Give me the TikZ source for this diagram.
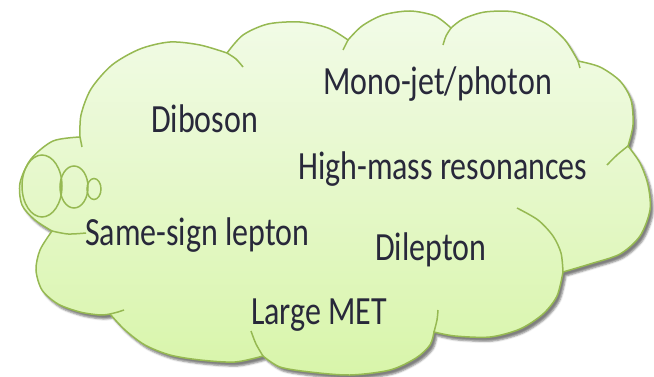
\documentclass[tikz,border=0pt]{standalone}
\usepackage{fontspec}
\setmainfont{Carlito}
\usetikzlibrary{shadows.blur}
\definecolor{cloudline}{RGB}{150,185,82}
\definecolor{cloudtop}{RGB}{242,251,232}
\definecolor{cloudbot}{RGB}{216,245,170}
\definecolor{cloudtext}{RGB}{40,40,58}

\begin{document}
\begin{tikzpicture}[x=1pt,y=-1pt,
	lobe/.style={cloudline, line width=1.5pt},
	txt/.style={anchor=base west, inner sep=0pt, xscale=0.8, text=cloudtext, font=\fontsize{40}{44}\selectfont}]
	\useasboundingbox (0,0) rectangle (654,377);
	% cloud outline, one smooth piece per puff
	\path[lobe, draw, top color=cloudtop, bottom color=cloudbot,
		blur shadow={shadow xshift=3pt, shadow yshift=-4pt, shadow opacity=50}]
		(80,137) -- plot[smooth] coordinates {(80,137) (53,141) (31,159) (20,183) (22,205) (35,220) (52,231)}
		-- plot[smooth] coordinates {(52,231) (40,250) (36,270) (42,290) (58,304) (80,312) (100,315) (110,314)}
		-- plot[smooth] coordinates {(110,314) (125,330) (145,345) (170,355) (200,360) (235,362) (263,356)}
		-- plot[smooth] coordinates {(263,356) (280,367) (310,372) (350,375) (390,370) (416,358) (430,345) (434,332)}
		-- plot[smooth] coordinates {(434,332) (455,336) (490,337) (520,329) (543,314) (557,296) (563,272)}
		-- plot[smooth] coordinates {(563,272) (590,264) (620,254) (640,236) (650,210) (648,185) (640,163) (628,146)}
		-- plot[smooth] coordinates {(628,146) (633,125) (631,100) (620,81) (600,67) (578,61)}
		-- plot[smooth] coordinates {(578,61) (565,40) (545,23) (515,12) (485,12) (463,19) (451,28)}
		-- plot[smooth] coordinates {(451,28) (435,16) (410,11) (383,15) (362,26) (348,40)}
		-- plot[smooth] coordinates {(348,40) (328,28) (300,22) (268,24) (243,35) (227,53)}
		-- plot[smooth] coordinates {(227,53) (200,45) (170,42) (140,49) (112,65) (91,89) (81,115) (80,137)}
		-- cycle;
	% inner ends of the puffs
	\draw[lobe] plot[smooth] coordinates {(80,137) (82,147)};
	\draw[lobe] plot[smooth] coordinates {(52,231) (68,234) (86,233)};
	\draw[lobe] plot[smooth] coordinates {(110,314) (118,312) (124,310)};
	\draw[lobe] plot[smooth] coordinates {(251,331) (256,344) (263,356)};
	\draw[lobe] plot[smooth] coordinates {(434,332) (437,320) (438,310)};
	\draw[lobe] plot[smooth] coordinates {(563,272) (561,253) (553,236) (538,220) (517,208)};
	\draw[lobe] plot[smooth] coordinates {(628,146) (617,155) (607,165)};
	\draw[lobe] plot[smooth] coordinates {(578,61) (580,68)};
	\draw[lobe] plot[smooth] coordinates {(451,28) (446,36) (443,45)};
	\draw[lobe] plot[smooth] coordinates {(348,40) (343,50)};
	\draw[lobe] plot[smooth] coordinates {(227,53) (236,59) (243,67)};
	% thought bubbles
	\draw[lobe] (42,186) ellipse [x radius=20pt, y radius=31pt];
	\draw[lobe] (74,187) ellipse [x radius=14pt, y radius=21pt];
	\draw[lobe] (94,189) ellipse [x radius=7pt, y radius=10.5pt];
	% labels
	\node[txt] (monojet) at (323,95) {Mono-jet/photon};
	\node[txt] (diboson) at (151,133) {Diboson};
	\node[txt] (highmass) at (298,180) {High-mass resonances};
	\node[txt] (samesign) at (85,245) {Same-sign lepton};
	\node[txt] (dilepton) at (375,261) {Dilepton};
	\node[txt] (largemet) at (251,324) {Large MET};
\end{tikzpicture}
\end{document}
